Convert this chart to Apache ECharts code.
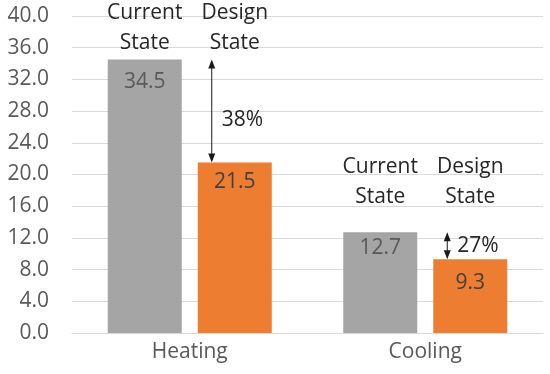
<!DOCTYPE html>
<html>
<head>
<meta charset="utf-8">
<script src="https://cdn.jsdelivr.net/npm/echarts@6/dist/echarts.min.js"></script>
<style>html,body{margin:0;padding:0;background:#fff}#c{width:550px;height:374px}</style>
</head>
<body>
<div id="c"></div>
<script>
var categories = ['Heating', 'Cooling'];
var currentState = [34.5, 12.7];
var designState = [21.5, 9.3];
var yTicks = [0, 4, 8, 12, 16, 20, 24, 28, 32, 36, 40];
var seriesNames = ['Current\nState', 'Design\nState'];

var FONT = '"Open Sans", sans-serif';
var FS = 21;
var BAR_W = 74, BAR_GAP_PX = 16;

var chart = echarts.init(document.getElementById('c'));

function mkData(vals, dists) {
  return vals.map(function (v, i) {
    return { value: v, label: { distance: dists[i] } };
  });
}

chart.setOption({
  animation: false,
  grid: { left: 72, right: 7, top: 16, bottom: 41 },
  xAxis: {
    type: 'category',
    data: categories,
    axisLine: { lineStyle: { color: '#d9d9d9', width: 1 } },
    axisTick: { show: false },
    axisLabel: { color: '#595959', fontSize: FS, fontFamily: FONT, margin: 9 }
  },
  yAxis: {
    type: 'value',
    min: yTicks[0], max: yTicks[yTicks.length - 1], interval: yTicks[1] - yTicks[0],
    axisLine: { show: false },
    axisTick: { show: false },
    splitLine: { lineStyle: { color: '#d9d9d9', width: 1 } },
    axisLabel: {
      color: '#595959', fontSize: FS, fontFamily: FONT, margin: 23,
      formatter: function (v) { return v.toFixed(1); }
    }
  },
  series: [
    {
      type: 'bar', name: 'Current State',
      data: mkData(currentState, [12, 5]),
      barWidth: BAR_W, barGap: (BAR_GAP_PX / BAR_W * 100) + '%',
      itemStyle: { color: '#A5A5A5' },
      label: { show: true, position: 'insideTop', color: '#595959', fontSize: FS, fontFamily: FONT,
        formatter: function (p) { return p.value.toFixed(1); } }
    },
    {
      type: 'bar', name: 'Design State',
      data: mkData(designState, [9, 13]),
      barWidth: BAR_W,
      itemStyle: { color: '#ED7D31' },
      label: { show: true, position: 'insideTop', color: '#404040', fontSize: FS, fontFamily: FONT,
        formatter: function (p) { return p.value.toFixed(1); } }
    }
  ]
});

// Annotations anchored to the axes
var titleLevels = [38.5, 19]; // value level of the two-line series titles per category
var half = (BAR_W + BAR_GAP_PX) / 2;
var graphics = [];
var TXT = '#262626';

categories.forEach(function (cat, i) {
  var cx = chart.convertToPixel({ xAxisIndex: 0 }, cat);
  var ty = chart.convertToPixel({ yAxisIndex: 0 }, titleLevels[i]);
  [-half, half].forEach(function (off, s) {
    graphics.push({
      type: 'text', silent: true,
      style: { text: seriesNames[s], x: cx + off, y: ty, fill: TXT,
        font: FS + 'px ' + FONT, align: 'center', verticalAlign: 'middle', lineHeight: 30 }
    });
  });
  // double arrow
  var ax = cx + half - BAR_W / 2 + 14;
  var yTop = chart.convertToPixel({ yAxisIndex: 0 }, currentState[i]);
  var yBot = chart.convertToPixel({ yAxisIndex: 0 }, designState[i]);
  var hw = 3.5, hh = 9;
  graphics.push({ type: 'line', silent: true,
    shape: { x1: ax, y1: yTop + hh - 1, x2: ax, y2: yBot - hh + 1 },
    style: { stroke: '#1a1a1a', lineWidth: 1 } });
  graphics.push({ type: 'polygon', silent: true,
    shape: { points: [[ax, yTop], [ax - hw, yTop + hh], [ax + hw, yTop + hh]] },
    style: { fill: '#1a1a1a' } });
  graphics.push({ type: 'polygon', silent: true,
    shape: { points: [[ax, yBot], [ax - hw, yBot - hh], [ax + hw, yBot - hh]] },
    style: { fill: '#1a1a1a' } });
  var pct = Math.round((1 - designState[i] / currentState[i]) * 100) + '%';
  var midY = (yTop + yBot) / 2 + (i === 0 ? 9 : 0);
  graphics.push({ type: 'text', silent: true,
    style: { text: pct, x: ax + 10, y: midY, fill: TXT, font: FS + 'px ' + FONT,
      align: 'left', verticalAlign: 'middle' } });
});

chart.setOption({ graphic: graphics });
</script>
</body>
</html>
